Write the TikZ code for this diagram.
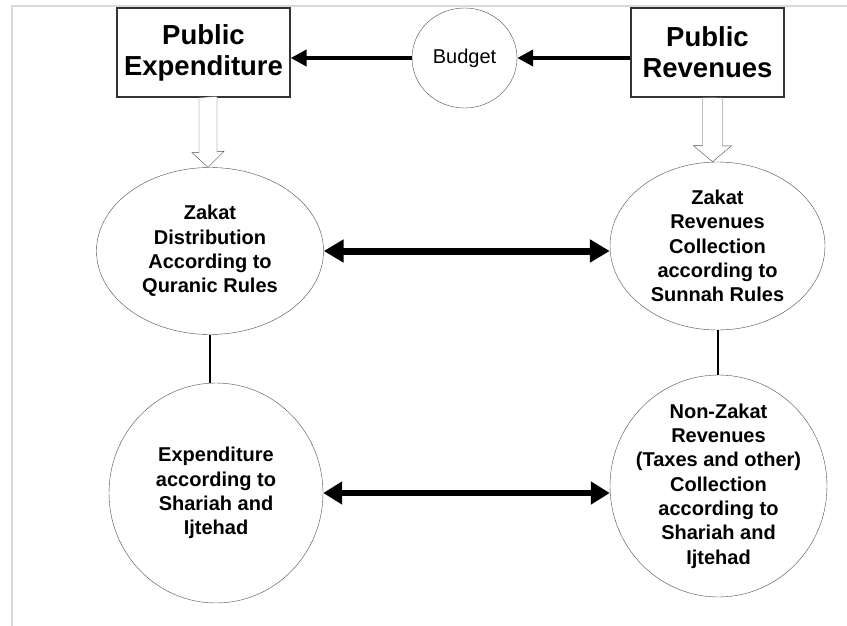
\documentclass[tikz,border=0pt]{standalone}
\usepackage{fontspec}
\setmainfont{Liberation Sans}
\usetikzlibrary{shapes.geometric,arrows.meta}

\begin{document}
\begin{tikzpicture}[x=1pt, y=-1pt,
  box/.style={rectangle, draw=black!80, line width=1.3pt, align=center, font=\fontsize{27.5}{31}\selectfont\bfseries},
  oval/.style={ellipse, draw=black!70, thin, inner sep=0pt},
  ovaltext/.style={align=center, inner sep=0pt, font=\fontsize{20}{24.3}\selectfont\bfseries},
  thickarrow/.style={-{Triangle[length=16pt,width=16pt]}, line width=4.5pt},
  hollow/.style={draw=black!70, thin, fill=white}]
			\useasboundingbox (0,0) rectangle (847,626);
			\draw[black!15, line width=1.5pt] (12,626) -- (12,6) -- (847,6);
			
			\node[box, minimum width=173pt, minimum height=89pt] (pe) at (203.5,52.5) {Public\\Expenditure};
			\node[box, minimum width=153pt, minimum height=89pt] (pr) at (707.5,52.5) {Public\\Revenues};
			\node[oval, minimum width=105pt, minimum height=100pt, font=\fontsize{20}{22}\selectfont] (bud) at (464.5,58) {Budget};
			
			\node[oval, minimum width=227pt, minimum height=167pt,
			  label={[ovaltext]center:{Zakat\\Distribution\\According to\\Quranic Rules}}] (zd) at (210,251) {};
			\node[oval, minimum width=215pt, minimum height=168pt,
			  label={[ovaltext]center:{Zakat\\Revenues\\Collection\\according to\\Sunnah Rules}}] (zr) at (717.5,246) {};
			\node[oval, minimum width=214pt, minimum height=220pt,
			  label={[ovaltext]center:{Expenditure\\according to\\Shariah and\\Ijtehad}}] (ex) at (216,493) {};
			\node[oval, minimum width=217pt, minimum height=222pt,
			  label={[ovaltext]center:{Non-Zakat\\Revenues\\(Taxes and other)\\Collection\\according to\\Shariah and\\Ijtehad}}] (nz) at (718.5,486) {};
			
			\coordinate (zdtip) at ([xshift=-2pt]zd.north);
			\coordinate (zrtip) at ([xshift=-5pt]zr.north);
			
			\draw[thickarrow] (bud.west) -- (bud.west -| pe.east);
			\draw[thickarrow] (pr.west |- bud.east) -- (bud.east);
			
			\draw[hollow] (pe.south -| zdtip) ++(-9,0) -- ++(0,55) -- ++(-7,0) -- (zdtip) -- ++(16,-16) -- ++(-7,0) -- ++(0,-55) -- cycle;
			\draw[hollow] (pr.south -| zrtip) ++(-10,0) -- ++(0,48) -- ++(-9,0) -- (zrtip) -- ++(19,-16) -- ++(-9,0) -- ++(0,-48) -- cycle;
			
			\draw[{Triangle[length=20pt,width=22pt]}-{Triangle[length=20pt,width=22pt]}, line width=7pt] (zd.east) -- (zd.east -| zr.west);
			\draw[{Triangle[length=19pt,width=22pt]}-{Triangle[length=19pt,width=22pt]}, line width=5.5pt] (ex.east) -- (ex.east -| nz.west);
			
			\draw[line width=2pt] (zd.south) -- (zd.south |- ex.north);
			\draw[line width=2pt] (zr.south) -- (zr.south |- nz.north);
\end{tikzpicture}
\end{document}
